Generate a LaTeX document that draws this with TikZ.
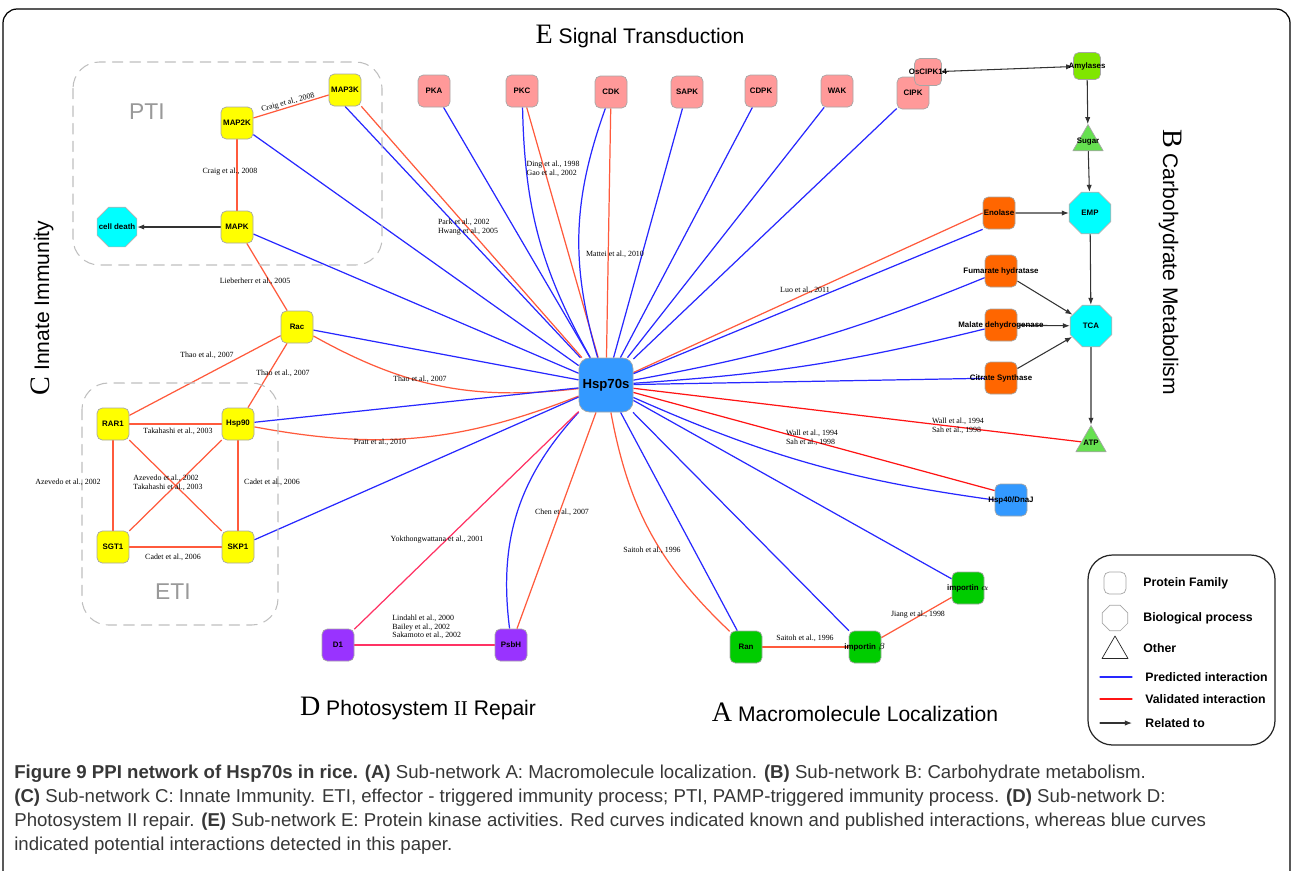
\documentclass[tikz,border=0pt]{standalone}
\usepackage{fontspec}
\setmainfont{Liberation Serif}
\setsansfont{Liberation Sans}
\usepackage{tikz}
\usetikzlibrary{shapes.geometric, arrows.meta, backgrounds}
\definecolor{hspblue}{RGB}{51,153,255}
\definecolor{kinpink}{RGB}{255,153,153}
\definecolor{metorange}{RGB}{255,102,0}
\definecolor{immyellow}{RGB}{255,255,0}
\definecolor{proccyan}{RGB}{0,255,255}
\definecolor{locgreen}{RGB}{0,204,0}
\definecolor{amygreen}{RGB}{128,230,0}
\definecolor{othergreen}{RGB}{102,224,80}
\definecolor{psiipurple}{RGB}{153,51,255}
\definecolor{predblue}{RGB}{40,40,255}
\definecolor{valred}{RGB}{255,90,60}
\definecolor{purered}{RGB}{255,20,20}
\definecolor{pinkred}{RGB}{255,50,100}
\definecolor{capgray}{RGB}{55,55,55}

\begin{document}
\begin{tikzpicture}[x=0.02cm, y=-0.02cm, line cap=round, line join=round,
    prot/.style={draw=gray!70, rounded corners=3pt, minimum size=0.64cm, inner sep=0pt,
      font=\fontsize{4.5}{5}\selectfont\sffamily\bfseries},
    proc/.style={draw=gray!60, fill=proccyan, regular polygon, regular polygon sides=8,
      minimum size=0.9cm, inner sep=0pt, font=\fontsize{4.5}{5}\selectfont\sffamily\bfseries},
    othr/.style={draw=gray!70, regular polygon, regular polygon sides=3, minimum size=0.7cm,
      inner sep=0pt},
    lbl/.style={font=\fontsize{4.5}{5}\selectfont\sffamily\bfseries, inner sep=0pt},
    pred/.style={predblue, line width=0.7pt},
    valid/.style={valred, line width=0.7pt},
    rel/.style={-{Latex[length=4pt,width=3pt]}, line width=0.6pt, black!80},
    cite/.style={font=\fontsize{4.5}{5}\selectfont, inner sep=0pt, align=left},
    region/.style={draw=gray!50, dash pattern=on 6pt off 4pt, rounded corners=15pt, line width=0.6pt},
    title/.style={font=\fontsize{12}{14}\selectfont\sffamily, inner sep=0pt},
    lgtext/.style={font=\fontsize{7}{8}\selectfont\sffamily\bfseries, anchor=west, inner sep=0pt}]
  \clip (0,0) rectangle (1293,870);
  \draw[line width=0.7pt, rounded corners=8pt] (3,900) -- (3,9) -- (1290,9) -- (1290,900);

  % -- Sub-network titles --
  \node[title] (ttle) at (640,36) {{\rmfamily\fontsize{16}{16}\selectfont E} Signal Transduction};
  \node[title, rotate=-90] (ttlb) at (1170,262) {{\rmfamily\fontsize{16}{16}\selectfont B} Carbohydrate Metabolism};
  \node[title, rotate=90] (ttlc) at (42,308) {{\rmfamily\fontsize{16}{16}\selectfont C} Innate Immunity};
  \node[title] (ttld) at (418,708) {{\rmfamily\fontsize{16}{16}\selectfont D} Photosystem\ {\rmfamily II}\ Repair};
  \node[title] (ttla) at (855,712) {{\rmfamily\fontsize{16}{16}\selectfont A} Macromolecule Localization};

  % -- PTI / ETI boxes --
  \draw[region] (73,62) rectangle (382,265);
  \draw[region] (82,383) rectangle (278,625);
  \node[font=\fontsize{13}{13}\selectfont\sffamily, text=gray!80] (pti) at (147,112) {PTI};
  \node[font=\fontsize{13}{13}\selectfont\sffamily, text=gray!80] (eti) at (173,592) {ETI};

  % -- Hub --
  \node[prot, fill=hspblue, minimum size=1.08cm, rounded corners=6pt, font=\fontsize{7.5}{8}\selectfont\sffamily\bfseries] (hsp) at (606,385) {Hsp70s};

  % -- Kinases (E) --
  \node[prot, fill=kinpink] (pka) at (434,91) {PKA};
  \node[prot, fill=kinpink] (pkc) at (522,91) {PKC};
  \node[prot, fill=kinpink] (cdk) at (611,92) {CDK};
  \node[prot, fill=kinpink] (sapk) at (687,92) {SAPK};
  \node[prot, fill=kinpink] (cdpk) at (761,91) {CDPK};
  \node[prot, fill=kinpink] (wak) at (837,91) {WAK};
  \node[prot, fill=kinpink] (cipk) at (913,93) {CIPK};
  \node[prot, fill=kinpink, minimum size=0.54cm, label={[lbl]center:OsCIPK14}] (oscipk) at (928,72) {};

  % -- Carbohydrate metabolism (B) --
  \node[prot, fill=amygreen, minimum size=0.54cm, label={[lbl]center:Amylases}] (amy) at (1087,66) {};
  \node[othr, fill=othergreen, label={[lbl]center:Sugar}] (sugar) at (1088,142) {};
  \node[proc] (emp) at (1090,213) {EMP};
  \node[proc] (tca) at (1091,326) {TCA};
  \node[othr, fill=othergreen, label={[lbl]center:ATP}] (atp) at (1091,443) {};
  \node[prot, fill=metorange, label={[lbl]center:Enolase}] (eno) at (999,213) {};
  \node[prot, fill=metorange, label={[lbl]center:Fumarate hydratase}] (fum) at (1001,271) {};
  \node[prot, fill=metorange, label={[lbl]center:Malate dehydrogenase}] (mdh) at (1001,325) {};
  \node[prot, fill=metorange, label={[lbl]center:Citrate Synthase}] (cs) at (1001,378) {};

  % -- Innate immunity (C) --
  \node[prot, fill=immyellow] (map3k) at (345,90) {MAP3K};
  \node[prot, fill=immyellow] (map2k) at (237,123) {MAP2K};
  \node[prot, fill=immyellow] (mapk) at (237,227) {MAPK};
  \node[proc, minimum size=0.86cm, label={[lbl]center:cell death}] (death) at (117,227) {};
  \node[prot, fill=immyellow] (rac) at (297,327) {Rac};
  \node[prot, fill=immyellow] (rar) at (113,424) {RAR1};
  \node[prot, fill=immyellow] (hsp90) at (238,424) {Hsp90};
  \node[prot, fill=immyellow] (sgt) at (113,547) {SGT1};
  \node[prot, fill=immyellow] (skp) at (238,547) {SKP1};

  % -- Photosystem II repair (D) --
  \node[prot, fill=psiipurple] (d1) at (338,645) {D1};
  \node[prot, fill=psiipurple] (psbh) at (511,645) {PsbH};

  % -- Macromolecule localization (A) --
  \node[prot, fill=locgreen] (ran) at (746,647) {Ran};
  \node[prot, fill=locgreen, label={[lbl]center:importin $\beta$}] (impb) at (865,647) {};
  \node[prot, fill=locgreen, label={[lbl]center:importin $\alpha$}] (impa) at (968,588) {};
  \node[prot, fill=hspblue, label={[lbl]center:Hsp40/DnaJ}] (hsp40) at (1011,500) {};

  \begin{scope}[on background layer]
    % -- Hub interactions --
    \draw[pred] (pka) -- (hsp);
    \draw[pred] (pkc) to[bend right=14] (hsp);
    \draw[valid] (pkc) -- (hsp);
    \draw[pred] (cdk) to[bend right=18] (hsp);
    \draw[valid] (cdk) -- (hsp);
    \draw[pred] (sapk) -- (hsp);
    \draw[pred] (cdpk) -- (hsp);
    \draw[pred] (wak) -- (hsp);
    \draw[pred] (cipk) -- (hsp);
    \draw[valid] (hsp) -- (eno.west);
    \draw[pred] (hsp) -- (eno.south west);
    \draw[pred] (hsp) to[bend right=6] (fum);
    \draw[pred] (hsp) to[bend right=5] (mdh);
    \draw[pred] (hsp) -- (cs);
    \draw[purered, line width=0.7pt] (hsp) -- (atp);
    \draw[purered, line width=0.7pt] (hsp) -- (hsp40.150);
    \draw[pred] (hsp) to[bend right=8] (hsp40.west);
    \draw[pred] (hsp) -- (impa);
    \draw[pred] (hsp) -- (impb);
    \draw[pred] (hsp) -- (ran);
    \draw[valid] (hsp) to[bend right=18] (ran);
    \draw[pred] (hsp) to[bend right=25] (psbh);
    \draw[valid] (psbh) -- (hsp);
    \draw[pinkred, line width=0.7pt] (d1) -- (hsp);
    \draw[pred] (map3k.south) -- (hsp);
    \draw[valid] (map3k.south east) -- (hsp);
    \draw[pred] (map2k) -- (hsp);
    \draw[pred] (mapk) -- (hsp);
    \draw[pred] (rac) -- (hsp);
    \draw[valid] (rac) to[bend right=18] (hsp);
    \draw[pred] (hsp90) -- (hsp);
    \draw[valid] (hsp90) to[bend right=16] (hsp);
    \draw[pred] (skp) -- (hsp);

    % -- Within sub-networks --
    \draw[valid] (map2k) -- (map3k);
    \draw[valid] (map2k) -- (mapk);
    \draw[valid] (mapk) -- (rac);
    \draw[valid] (rac) -- (rar);
    \draw[valid] (rac) -- (hsp90);
    \draw[valid] (rar) -- (hsp90);
    \draw[valid] (rar) -- (sgt);
    \draw[valid] (rar) -- (skp);
    \draw[valid] (hsp90) -- (sgt);
    \draw[valid] (hsp90) -- (skp);
    \draw[valid] (sgt) -- (skp);
    \draw[pinkred, line width=0.7pt] (d1) -- (psbh);
    \draw[valid] (ran) -- (impb);
    \draw[valid] (impb) -- (impa);

    % -- Related to --
    \draw[rel] (mapk) -- (death);
    \draw[rel] (oscipk) -- (amy);
    \draw[rel] (amy) -- (sugar);
    \draw[rel] (sugar) -- (emp);
    \draw[rel] (eno) -- (emp);
    \draw[rel] (emp) -- (tca);
    \draw[rel] (fum) -- (tca);
    \draw[rel] (mdh) -- (tca);
    \draw[rel] (cs) -- (tca);
    \draw[rel] (tca) -- (atp);
  \end{scope}

  % -- Citations --
  \node[cite, rotate=15] (c1) at (288,103) {Craig et al., 2008};
  \node[cite] (c2) at (230,172) {Craig et al., 2008};
  \node[cite] (c3) at (255,281) {Lieberherr et al., 2005};
  \node[cite] (c4) at (207,355) {Thao et al., 2007};
  \node[cite] (c5) at (283,373) {Thao et al., 2007};
  \node[cite] (c6) at (420,379) {Thao et al., 2007};
  \node[cite] (c7) at (178,431) {Takahashi et al., 2003};
  \node[cite] (c8) at (68,482) {Azevedo et al., 2002};
  \node[cite] (c9) at (168,483) {Azevedo et al., 2002\\Takahashi et al., 2003};
  \node[cite] (c10) at (272,482) {Cadet et al., 2006};
  \node[cite] (c11) at (173,557) {Cadet et al., 2006};
  \node[cite] (c12) at (380,442) {Pratt et al., 2010};
  \node[cite] (c13) at (468,227) {Park et al., 2002\\Hwang et al., 2005};
  \node[cite] (c14) at (553,169) {Ding et al., 1998\\Gao et al., 2002};
  \node[cite] (c15) at (615,254) {Mattei et al., 2010};
  \node[cite] (c16) at (805,290) {Luo et al., 2011};
  \node[cite] (c17) at (812,438) {Wall et al., 1994\\Sah et al., 1998};
  \node[cite] (c18) at (958,426) {Wall et al., 1994\\Sah et al., 1998};
  \node[cite] (c19) at (437,540) {Yokthongwattana et al., 2001};
  \node[cite, anchor=west] (c20) at (392,627) {Lindahl et al., 2000\\Bailey et al., 2002\\Sakamoto et al., 2002};
  \node[cite] (c21) at (562,512) {Chen et al., 2007};
  \node[cite] (c22) at (652,550) {Saitoh et al., 1996};
  \node[cite] (c23) at (805,638) {Saitoh et al., 1996};
  \node[cite] (c24) at (918,615) {Jiang et al., 1998};

  % -- Legend --
  \draw[line width=0.7pt, gray!30!black, rounded corners=14pt] (1088,555) rectangle (1275,745);
  \node[prot, fill=white, minimum size=0.44cm] (lgpf) at (1115,583) {};
  \node[lgtext] (lgpft) at (1143,583) {Protein Family};
  \node[proc, fill=white, draw=gray!70, minimum size=0.55cm] (lgbp) at (1115,618) {};
  \node[lgtext] (lgbpt) at (1143,618) {Biological process};
  \node[othr, fill=white, draw=gray!30!black, minimum size=0.6cm] (lgot) at (1115,651) {};
  \node[lgtext] (lgott) at (1143,648) {Other};
  \coordinate (lgpa) at (1100,677); \coordinate (lgpb) at (1132,677);
  \coordinate (lgva) at (1100,699); \coordinate (lgvb) at (1132,699);
  \coordinate (lgra) at (1100,723); \coordinate (lgrb) at (1132,723);
  \draw[pred] (lgpa) -- (lgpb);
  \draw[purered, line width=0.7pt] (lgva) -- (lgvb);
  \draw[rel] (lgra) -- (lgrb);
  \node[lgtext] (lgpt) at (1145,677) {Predicted interaction};
  \node[lgtext] (lgvt) at (1145,699) {Validated interaction};
  \node[lgtext] (lgrt) at (1145,723) {Related to};

  % -- Caption --
  \begin{scope}[every node/.style={anchor=west, inner sep=0pt, text=capgray, font=\fontsize{10.6}{12}\selectfont\sffamily}]
    \node (cap1) at (14,774) {\textbf{Figure 9 PPI network of Hsp70s in rice. (A)} Sub-network A: Macromolecule localization. \textbf{(B)} Sub-network B: Carbohydrate metabolism.};
    \node (cap2) at (14,798) {\textbf{(C)} Sub-network C: Innate Immunity. ETI, effector - triggered immunity process; PTI, PAMP-triggered immunity process. \textbf{(D)} Sub-network D:};
    \node (cap3) at (14,822) {Photosystem II repair. \textbf{(E)} Sub-network E: Protein kinase activities. Red curves indicated known and published interactions, whereas blue curves};
    \node (cap4) at (14,846) {indicated potential interactions detected in this paper.};
  \end{scope}
\end{tikzpicture}
\end{document}
